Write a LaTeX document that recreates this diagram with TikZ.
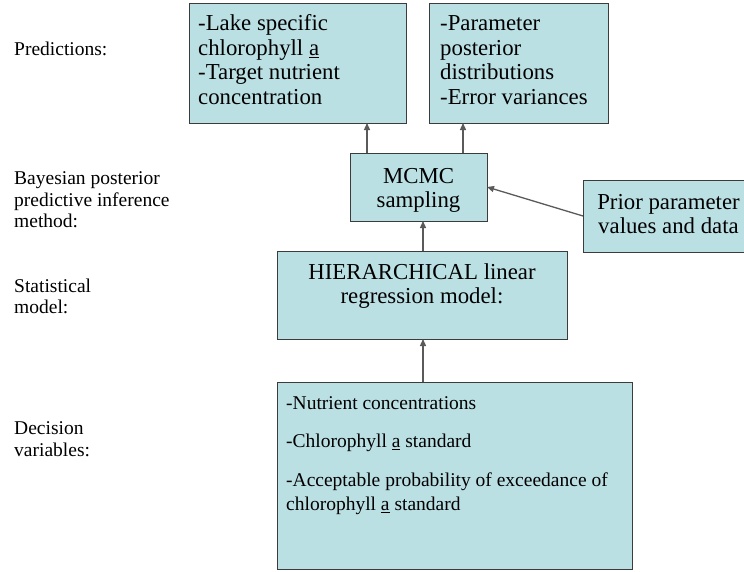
\documentclass[tikz,border=0pt]{standalone}
\usepackage{fontspec}
\setmainfont{Liberation Serif}
\usetikzlibrary{arrows.meta}
\definecolor{boxfill}{RGB}{187,224,228}
\definecolor{edgegray}{RGB}{60,60,60}
\definecolor{arrowgray}{RGB}{90,90,90}

\begin{document}
\begin{tikzpicture}[x=1pt,y=-1pt,
  box/.style={draw=edgegray, line width=1pt, fill=boxfill, inner sep=0pt, outer sep=0pt, anchor=north west},
  boxtext/.style={inner sep=0pt, font=\fontsize{22.8}{24.5}\selectfont},
  dectext/.style={inner sep=0pt, font=\fontsize{19.5}{24.5}\selectfont},
  lbl/.style={inner sep=0pt, anchor=north west, align=left, font=\fontsize{19.5}{21.5}\selectfont},
  arr/.style={draw=arrowgray, line width=1.3pt, -{Triangle[length=7pt,width=6pt]}}]
\useasboundingbox (0,0) rectangle (744,571);

% level labels on the left
\node[lbl] (lpred) at (14,42) {Predictions:};
\node[lbl] (lbayes) at (14,171.7) {Bayesian posterior\\predictive inference\\method:};
\node[lbl] (lstat) at (14,278.7) {Statistical\\model:};
\node[lbl] (ldec) at (14,421.7) {Decision\\variables:};

% boxes
\node[box, minimum width=217pt, minimum height=120pt] (pred1) at (189,3) {};
\node[box, minimum width=179pt, minimum height=120pt] (pred2) at (429,3) {};
\node[box, minimum width=137pt, minimum height=68pt] (mcmc) at (350,153) {};
\node[box, minimum width=170pt, minimum height=72pt] (prior) at (583,180) {};
\node[box, minimum width=290pt, minimum height=88pt] (hier) at (277,251) {};
\node[box, minimum width=355pt, minimum height=187pt] (dec) at (277,382) {};

% box contents
\node[boxtext, anchor=north west, align=left] (pred1t) at (198,14.6)
  {-Lake specific\\chlorophyll \underline{a}\\-Target nutrient\\concentration};
\node[boxtext, anchor=north west, align=left] (pred2t) at (440,15.7)
  {-Parameter\\posterior\\distributions\\-Error variances};
\node[boxtext, anchor=north, align=center] (mcmct) at (418.5,168)
  {MCMC\\sampling};
\node[boxtext, anchor=north, align=center] (priort) at (668.5,194)
  {Prior parameter\\values and data};
\node[boxtext, anchor=north, align=center] (hiert) at (422,263)
  {HIERARCHICAL linear\\regression model:};
\node[dectext, anchor=north west, align=left] (dect) at (286,396)
  {-Nutrient concentrations\\[14pt]-Chlorophyll \underline{a} standard\\[14pt]-Acceptable probability of exceedance of\\chlorophyll \underline{a} standard};

% connectors
\coordinate (xa) at (367,0);
\coordinate (xb) at (463,0);
\coordinate (xc) at (423,0);
\draw[arr] (mcmc.north -| xa) -- (pred1.south -| xa);
\draw[arr] (mcmc.north -| xb) -- (pred2.south -| xb);
\draw[arr] (hier.north -| xc) -- (mcmc.south -| xc);
\draw[arr] (dec.north -| xc) -- (hier.south -| xc);
\draw[arr] (prior.west) -- (mcmc.east);
\end{tikzpicture}
\end{document}
